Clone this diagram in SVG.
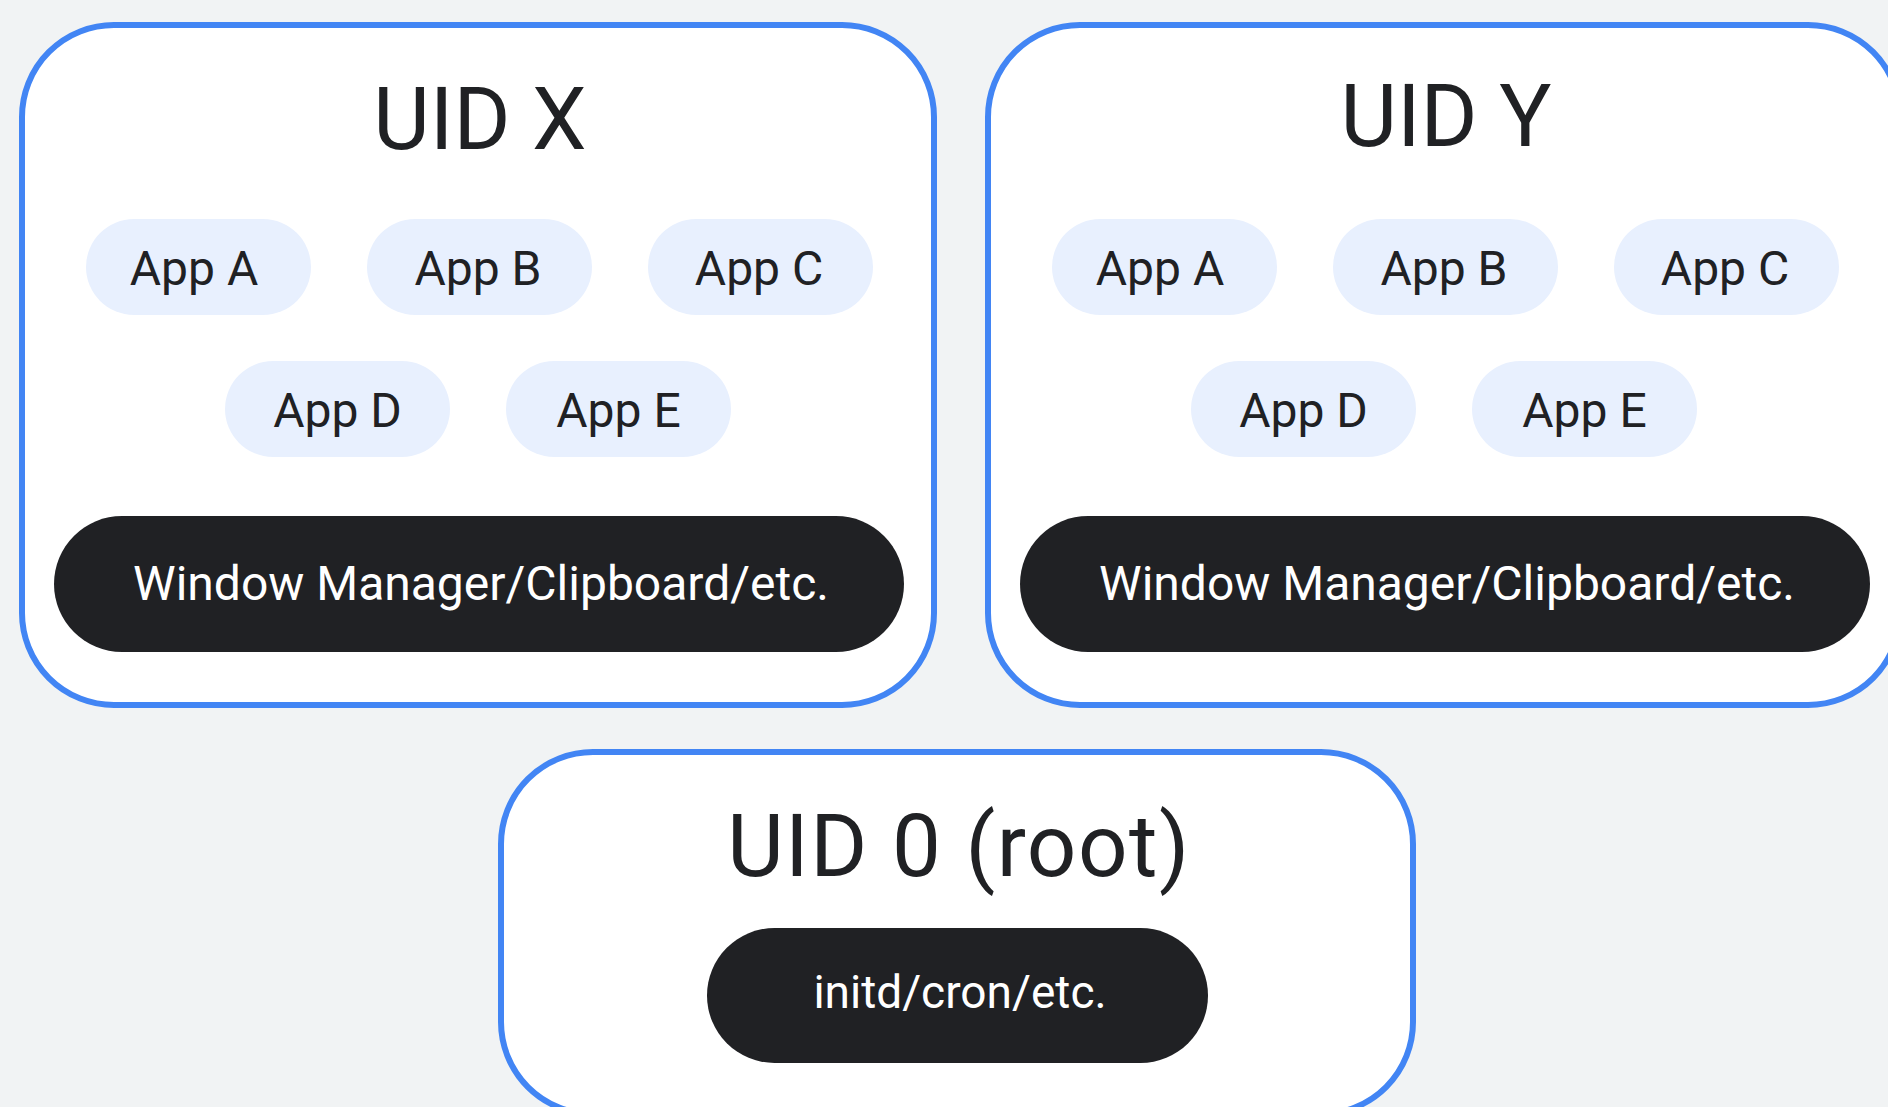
<svg xmlns="http://www.w3.org/2000/svg" width="1888" height="1107" viewBox="0 0 1888 1107">
  <style>
    .uid { fill: #ffffff; stroke: #4285f4; stroke-width: 6; }
    .app { fill: #e8f0fe; }
    .sys { fill: #202124; }
    .title { font-family: Roboto, "Liberation Sans", sans-serif; font-size: 87px; fill: #202124; text-anchor: middle; }
    .label { font-family: Roboto, "Liberation Sans", sans-serif; font-size: 48px; fill: #202124; text-anchor: middle; }
    .sys-label { font-family: Roboto, "Liberation Sans", sans-serif; font-size: 48px; fill: #ffffff; text-anchor: middle; }
  </style>
  <defs>
    <!-- one user's sandbox: title, five apps, shared system services -->
    <g id="uid-body">
      <rect class="uid" x="22" y="25" width="912" height="680" rx="92"/>
      <g id="app-a"><rect class="app" x="86" y="219" width="225" height="96" rx="48"/><text class="label" x="194" y="285">App A</text></g>
      <g id="app-b"><rect class="app" x="367" y="219" width="225" height="96" rx="48"/><text class="label" x="478" y="285">App B</text></g>
      <g id="app-c"><rect class="app" x="648" y="219" width="225" height="96" rx="48"/><text class="label" x="759" y="285">App C</text></g>
      <g id="app-d"><rect class="app" x="225" y="361" width="225" height="96" rx="48"/><text class="label" x="337.5" y="427">App D</text></g>
      <g id="app-e"><rect class="app" x="506" y="361" width="225" height="96" rx="48"/><text class="label" x="618.5" y="427">App E</text></g>
      <g id="services"><rect class="sys" x="54" y="516" width="850" height="136" rx="68"/><text class="sys-label" x="481" y="600">Window Manager/Clipboard/etc.</text></g>
    </g>
  </defs>

  <rect width="1888" height="1107" fill="#f1f3f4"/>

  <g id="uid-x">
    <use href="#uid-body"/>
    <text class="title" x="480" y="149">UID X</text>
  </g>

  <g id="uid-y" transform="translate(966,0)">
    <use href="#uid-body"/>
    <text class="title" x="480" y="146">UID Y</text>
  </g>

  <g id="uid-0">
    <rect class="uid" x="501" y="752" width="912" height="362" rx="92"/>
    <text class="title" x="959" y="876" letter-spacing="1.5">UID 0 (root)</text>
    <g id="init-services">
      <rect class="sys" x="707" y="928" width="501" height="135" rx="67.5"/>
      <text class="sys-label" x="960" y="1008" style="font-size:46px">initd/cron/etc.</text>
    </g>
  </g>

  <g id="connectors"/>
</svg>
